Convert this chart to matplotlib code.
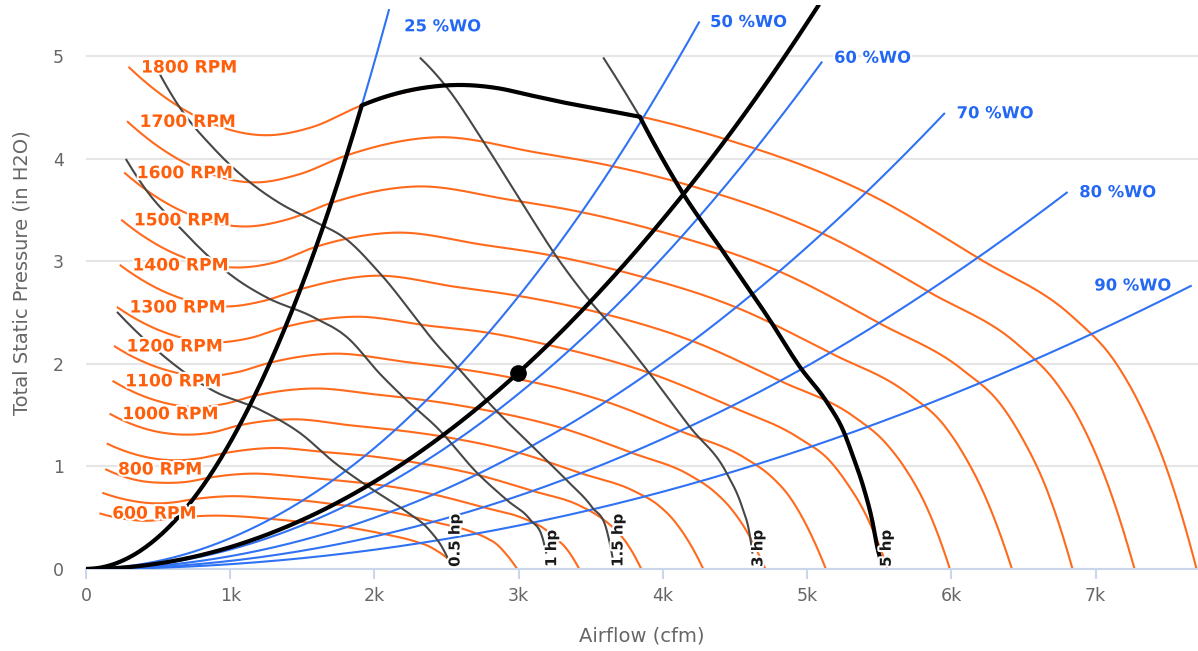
import numpy as np
import matplotlib
matplotlib.use("Agg")
import matplotlib.pyplot as plt
import matplotlib.patheffects as pe

# DATA (airflow in 1000 cfm, pressure in in H2O)
# fan curves, one per speed
q600 = [0.10, 0.26, 0.42, 0.52, 0.64, 0.86, 1.10, 1.27, 1.49, 1.80, 2.07, 2.28, 2.38, 2.43, 2.50, 2.57]
p600 = [0.54, 0.49, 0.47, 0.48, 0.50, 0.52, 0.51, 0.49, 0.46, 0.41, 0.34, 0.27, 0.22, 0.18, 0.11, 0.00]
q700 = [0.12, 0.30, 0.49, 0.61, 0.74, 1.00, 1.29, 1.49, 1.73, 2.10, 2.41, 2.66, 2.78, 2.84, 2.91, 2.99]
p700 = [0.74, 0.67, 0.64, 0.65, 0.68, 0.71, 0.69, 0.67, 0.63, 0.56, 0.46, 0.37, 0.30, 0.25, 0.15, 0.00]
q800 = [0.14, 0.34, 0.56, 0.70, 0.85, 1.14, 1.47, 1.70, 1.98, 2.40, 2.76, 3.04, 3.17, 3.24, 3.33, 3.42]
p800 = [0.97, 0.87, 0.84, 0.85, 0.89, 0.93, 0.90, 0.87, 0.83, 0.73, 0.60, 0.49, 0.40, 0.32, 0.20, 0.00]
q900 = [0.15, 0.39, 0.63, 0.79, 0.96, 1.29, 1.66, 1.91, 2.23, 2.71, 3.10, 3.42, 3.57, 3.65, 3.75, 3.85]
p900 = [1.22, 1.10, 1.06, 1.08, 1.13, 1.18, 1.14, 1.11, 1.05, 0.92, 0.76, 0.62, 0.50, 0.41, 0.25, 0.00]
q1000 = [0.17, 0.43, 0.69, 0.87, 1.06, 1.43, 1.84, 2.12, 2.48, 3.01, 3.44, 3.80, 3.97, 4.06, 4.16, 4.28]
p1000 = [1.51, 1.36, 1.31, 1.33, 1.40, 1.46, 1.40, 1.36, 1.29, 1.13, 0.93, 0.76, 0.62, 0.50, 0.31, 0.00]
q1100 = [0.19, 0.47, 0.76, 0.96, 1.17, 1.57, 2.02, 2.33, 2.73, 3.31, 3.79, 4.18, 4.36, 4.46, 4.58, 4.71]
p1100 = [1.83, 1.65, 1.58, 1.61, 1.69, 1.76, 1.70, 1.65, 1.56, 1.37, 1.13, 0.92, 0.75, 0.61, 0.37, 0.00]
q1200 = [0.20, 0.51, 0.83, 1.05, 1.27, 1.71, 2.21, 2.55, 2.97, 3.61, 4.13, 4.56, 4.76, 4.87, 4.99, 5.13]
p1200 = [2.17, 1.96, 1.88, 1.92, 2.01, 2.10, 2.02, 1.96, 1.86, 1.63, 1.34, 1.09, 0.89, 0.72, 0.44, 0.00]
q1300 = [0.22, 0.56, 0.90, 1.13, 1.38, 1.86, 2.39, 2.76, 3.22, 3.91, 4.48, 4.94, 5.16, 5.27, 5.41, 5.56]
p1300 = [2.55, 2.30, 2.21, 2.25, 2.36, 2.46, 2.37, 2.31, 2.18, 1.91, 1.58, 1.28, 1.05, 0.85, 0.52, 0.00]
q1400 = [0.24, 0.60, 0.97, 1.22, 1.49, 2.00, 2.57, 2.97, 3.47, 4.21, 4.82, 5.32, 5.55, 5.68, 5.83, 5.99]
p1400 = [2.96, 2.67, 2.56, 2.61, 2.73, 2.86, 2.75, 2.67, 2.53, 2.22, 1.83, 1.49, 1.22, 0.98, 0.60, 0.00]
q1500 = [0.25, 0.64, 1.04, 1.31, 1.59, 2.14, 2.76, 3.18, 3.72, 4.51, 5.17, 5.70, 5.95, 6.08, 6.24, 6.42]
p1500 = [3.40, 3.06, 2.94, 2.99, 3.14, 3.28, 3.16, 3.07, 2.90, 2.55, 2.10, 1.71, 1.40, 1.13, 0.69, 0.00]
q1600 = [0.27, 0.68, 1.11, 1.40, 1.70, 2.28, 2.94, 3.40, 3.96, 4.81, 5.51, 6.08, 6.35, 6.49, 6.66, 6.84]
p1600 = [3.86, 3.48, 3.34, 3.41, 3.57, 3.73, 3.60, 3.49, 3.30, 2.90, 2.39, 1.94, 1.59, 1.28, 0.78, 0.00]
q1700 = [0.29, 0.73, 1.18, 1.48, 1.80, 2.43, 3.13, 3.61, 4.21, 5.11, 5.86, 6.46, 6.74, 6.89, 7.07, 7.27]
p1700 = [4.36, 3.93, 3.77, 3.85, 4.03, 4.21, 4.06, 3.94, 3.73, 3.27, 2.69, 2.19, 1.79, 1.45, 0.88, 0.00]
q1800 = [0.30, 0.77, 1.25, 1.57, 1.91, 2.57, 3.31, 3.82, 4.46, 5.41, 6.20, 6.84, 7.14, 7.30, 7.49, 7.70]
p1800 = [4.89, 4.41, 4.23, 4.31, 4.52, 4.72, 4.55, 4.42, 4.18, 3.67, 3.02, 2.46, 2.01, 1.62, 0.99, 0.00]

rpm_kurver = [(q600, p600, "600 RPM"), (q700, p700, ""), (q800, p800, "800 RPM"), (q900, p900, ""),
              (q1000, p1000, "1000 RPM"), (q1100, p1100, "1100 RPM"), (q1200, p1200, "1200 RPM"),
              (q1300, p1300, "1300 RPM"), (q1400, p1400, "1400 RPM"), (q1500, p1500, "1500 RPM"),
              (q1600, p1600, "1600 RPM"), (q1700, p1700, "1700 RPM"), (q1800, p1800, "1800 RPM")]

# system curves (% wide open)
q_wo25 = [0, 0.4, 0.8, 1.2, 1.6, 1.91, 2.10]
p_wo25 = [0, 0.20, 0.79, 1.78, 3.16, 4.51, 5.45]
q_wo50 = [0, 1, 2, 3, 3.5, 4, 4.25]
p_wo50 = [0, 0.30, 1.18, 2.66, 3.61, 4.72, 5.33]
q_wo60 = [0, 1, 2, 3, 4, 4.5, 5.10]
p_wo60 = [0, 0.19, 0.76, 1.71, 3.04, 3.85, 4.94]
q_wo70 = [0, 1, 2, 3, 4, 5, 5.95]
p_wo70 = [0, 0.125, 0.50, 1.13, 2.01, 3.14, 4.44]
q_wo80 = [0, 1, 2, 3, 4, 5, 6, 6.80]
p_wo80 = [0, 0.079, 0.317, 0.714, 1.27, 1.98, 2.86, 3.67]
q_wo90 = [0, 1, 2, 3, 4, 5, 6, 7, 7.66]
p_wo90 = [0, 0.047, 0.188, 0.424, 0.754, 1.18, 1.70, 2.31, 2.76]

wo_kurver = [(q_wo25, p_wo25, "25 %WO"), (q_wo50, p_wo50, "50 %WO"), (q_wo60, p_wo60, "60 %WO"),
             (q_wo70, p_wo70, "70 %WO"), (q_wo80, p_wo80, "80 %WO"), (q_wo90, p_wo90, "90 %WO")]

# brake horsepower lines
q_hp05 = [0.22, 0.51, 0.88, 1.21, 1.48, 1.73, 1.96, 2.20, 2.38, 2.47, 2.52]
p_hp05 = [2.50, 2.11, 1.74, 1.55, 1.33, 1.03, 0.80, 0.58, 0.38, 0.21, 0.07]
q_hp1 = [0.28, 0.42, 0.65, 0.88, 1.05, 1.25, 1.57, 1.81, 2.04, 2.22, 2.44, 2.71, 2.92, 3.08, 3.17, 3.19]
p_hp1 = [3.99, 3.69, 3.33, 3.01, 2.82, 2.65, 2.46, 2.26, 1.90, 1.65, 1.37, 0.94, 0.67, 0.48, 0.28, 0.16]
q_hp15 = [0.51, 0.65, 0.88, 1.12, 1.34, 1.57, 1.81, 2.04, 2.45, 2.58, 2.82, 3.10, 3.33, 3.51, 3.61, 3.65]
p_hp15 = [4.83, 4.50, 4.11, 3.79, 3.57, 3.40, 3.21, 2.88, 2.16, 1.96, 1.58, 1.19, 0.87, 0.60, 0.38, 0.12]
q_hp3 = [2.32, 2.50, 2.75, 3.01, 3.28, 3.49, 3.65, 3.89, 4.19, 4.44, 4.55, 4.60, 4.62]
p_hp3 = [4.98, 4.70, 4.18, 3.60, 3.01, 2.62, 2.36, 1.94, 1.38, 0.94, 0.60, 0.35, 0.16]
q_hp5 = [3.59, 3.84, 4.14, 4.41, 4.74, 4.95, 5.14, 5.25, 5.32, 5.39, 5.45, 5.49, 5.51]
p_hp5 = [4.98, 4.41, 3.66, 3.11, 2.43, 1.97, 1.62, 1.35, 1.09, 0.80, 0.48, 0.19, 0.09]

hp_linjer = [(q_hp05, p_hp05, "0.5 hp"), (q_hp1, p_hp1, "1 hp"), (q_hp15, p_hp15, "1.5 hp"),
             (q_hp3, p_hp3, "3 hp"), (q_hp5, p_hp5, "5 hp")]

# selected system curve and operating point
q_system = [0, 1, 2, 3, 4, 4.5, 5.08]
p_system = [0, 0.213, 0.852, 1.917, 3.41, 4.31, 5.50]
q_drift = 2.994
p_drift = 1.91

# top of the 1800 RPM curve (part of the fan envelope)
q_topp = [1.91, 2.16, 2.38, 2.57, 2.85, 3.08, 3.31, 3.54, 3.84]
p_topp = [4.52, 4.64, 4.70, 4.72, 4.69, 4.62, 4.55, 4.49, 4.41]

x_ticks = [0, 1, 2, 3, 4, 5, 6, 7]
x_ticklabels = ["0", "1k", "2k", "3k", "4k", "5k", "6k", "7k"]
y_ticks = [0, 1, 2, 3, 4, 5]

# FARGER
oransje = "#ff6a1c"
oransje_tekst = "#ff5e0a"
blaa = "#2f72f4"
blaa_tekst = "#2367f5"
graa = "#474747"
akse = "#ccd6eb"


# glatt kurve gjennom punktene (kubisk hermite)
def glatt(x, y, n=30):
    x = np.asarray(x, float)
    y = np.asarray(y, float)
    h = np.diff(x)
    d = np.diff(y) / h
    m = np.empty_like(x)
    m[1:-1] = (h[1:] * d[:-1] + h[:-1] * d[1:]) / (h[:-1] + h[1:])
    m[0] = ((2 * h[0] + h[1]) * d[0] - h[0] * d[1]) / (h[0] + h[1])
    m[-1] = ((2 * h[-1] + h[-2]) * d[-1] - h[-1] * d[-2]) / (h[-1] + h[-2])
    xs, ys = [], []
    for i in range(len(h)):
        t = np.linspace(0, 1, n, endpoint=(i == len(h) - 1))
        h00 = 2 * t**3 - 3 * t**2 + 1
        h10 = t**3 - 2 * t**2 + t
        h01 = -2 * t**3 + 3 * t**2
        h11 = t**3 - t**2
        xs.append(x[i] + t * h[i])
        ys.append(h00 * y[i] + h10 * h[i] * m[i] + h01 * y[i + 1] + h11 * h[i] * m[i + 1])
    return np.concatenate(xs), np.concatenate(ys)


plt.rcParams["font.family"] = ["DejaVu Sans"]
halo = [pe.withStroke(linewidth=3, foreground="white")]

fig = plt.figure(figsize=(11.98, 6.51), dpi=100)
ax = fig.add_axes([86 / 1198, 82 / 651, 1112 / 1198, 564 / 651])

#viftekurver
for q, p, navn in rpm_kurver:
    gx, gy = glatt(q, p)
    ax.plot(gx, gy, color=oransje, lw=1.5, zorder=2)
    if navn:
        ax.annotate(navn, (q[0], p[0]), xytext=(8.5, 0), textcoords="offset points",
                    ha="left", va="center", fontsize=12.3, fontweight="bold",
                    color=oransje_tekst, path_effects=halo, zorder=6)

#systemkurver
wo_offset = [(11, -12), (8, 0), (9, 3), (9, 0), (9, 0), (-14, 0)]
for (q, p, navn), (dx, dy) in zip(wo_kurver, wo_offset):
    gx, gy = glatt(q, p)
    ax.plot(gx, gy, color=blaa, lw=1.5, zorder=3)
    ax.annotate(navn, (q[-1], p[-1]), xytext=(dx, dy), textcoords="offset points",
                ha="left" if dx > 0 else "right", va="center", fontsize=11.8,
                fontweight="bold", color=blaa_tekst, path_effects=halo, zorder=6)

#hk-linjer
for q, p, navn in hp_linjer:
    gx, gy = glatt(q, p)
    ax.plot(gx, gy, color=graa, lw=1.5, zorder=4)
    ax.annotate(navn, (q[-1], 0), xytext=(4, 1.5), textcoords="offset points",
                rotation=90, ha="center", va="bottom", fontsize=10.8,
                fontweight="bold", color="#1a1a1a", path_effects=halo, zorder=6)

#omhylling og valgt systemkurve
svart = dict(color="black", lw=3, zorder=5, solid_capstyle="round")
gx, gy = glatt(q_wo25[:-1], p_wo25[:-1])
ax.plot(gx, gy, **svart)
gx, gy = glatt(q_topp, p_topp)
ax.plot(gx, gy, **svart)
gx, gy = glatt(q_hp5[1:], p_hp5[1:])
ax.plot(gx, gy, **svart)
gx, gy = glatt(q_system, p_system)
ax.plot(gx, gy, **svart)
ax.plot([q_drift], [p_drift], "o", color="black", ms=11, zorder=7)

#akser
ax.set_xlim(0, 7.71)
ax.set_ylim(0, 5.5)
ax.set_xticks(x_ticks)
ax.set_xticklabels(x_ticklabels)
ax.set_yticks(y_ticks)
for s in ["top", "right", "left"]:
    ax.spines[s].set_visible(False)
ax.spines["bottom"].set_color(akse)
ax.spines["bottom"].set_linewidth(1.5)
ax.tick_params(axis="x", colors=akse, length=7, width=1.5, pad=6, labelsize=12.5, labelcolor="#666666")
ax.tick_params(axis="y", length=0, pad=16, labelsize=12.5, labelcolor="#666666")
ax.grid(axis="y", color="#e6e6e6", lw=1.5)
ax.set_axisbelow(True)

fig.text(642 / 1198, 1 - 636 / 651, "Airflow (cfm)", ha="center", va="center", fontsize=14, color="#666666")
fig.text(22 / 1198, 1 - 273 / 651, "Total Static Pressure (in H2O)", ha="center", va="center",
         rotation=90, fontsize=14, color="#666666")

fig.savefig("out.png", dpi=100)
